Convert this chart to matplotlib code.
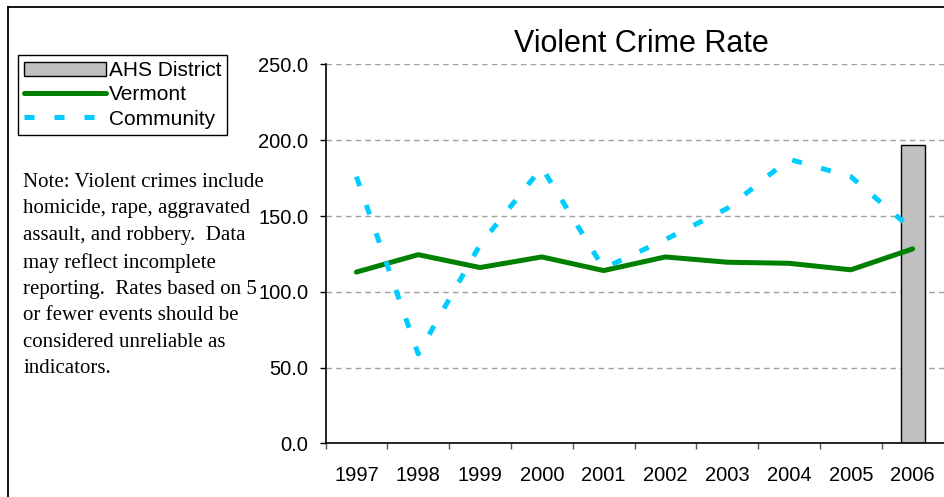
import numpy as np
import matplotlib
matplotlib.use("Agg")
import matplotlib.pyplot as plt
from matplotlib.lines import Line2D

years = ["1997", "1998", "1999", "2000", "2001", "2002", "2003", "2004", "2005", "2006"]
ahs_district = [np.nan, np.nan, np.nan, np.nan, np.nan, np.nan, np.nan, np.nan, np.nan, 197.0]
vermont = [113.0, 124.5, 116.0, 123.0, 114.0, 123.0, 119.5, 118.8, 114.5, 128.3]
community = [176.0, 59.0, 131.0, 182.0, 115.5, 134.5, 155.0, 187.5, 176.0, 141.0]
yticks = [0, 50, 100, 150, 200, 250]
note = ("Note: Violent crimes include\nhomicide, rape, aggravated\nassault, and robbery.  Data\n"
        "may reflect incomplete\nreporting.  Rates based on 5\nor fewer events should be\n"
        "considered unreliable as\nindicators.")

W, H = 944, 497
fig = plt.figure(figsize=(W / 100, H / 100), dpi=100)
plt.rcParams['font.family'] = ['Liberation Sans', 'DejaVu Sans']

left, right, top, bottom = 325.5, 943.5, 64.5, 443.3
ax = fig.add_axes([left / W, 1 - bottom / H, (right - left) / W, (bottom - top) / H])

x = np.arange(len(years))
bars = ax.bar(x, ahs_district, width=0.39, color="#C0C0C0", edgecolor="black", linewidth=1.0,
              label="AHS District", zorder=2)
lv, = ax.plot(x, vermont, color="#008000", linewidth=3.6, label="Vermont", zorder=3,
              solid_joinstyle="round", solid_capstyle="round")
lc, = ax.plot(x, community, color="#00CCFF", linewidth=3.6, dashes=(2.0, 4.0), label="Community",
              zorder=3)

ax.set_xlim(-0.5, len(years) - 0.5)
ax.set_ylim(0, 250)
ax.set_yticks(yticks)
ax.set_yticklabels([f"{v:.1f}" for v in yticks], fontsize=14.5)
ax.yaxis.grid(True, color="#a0a0a0", linestyle=(0, (4, 3)), linewidth=1.0)
ax.set_axisbelow(True)

ax.set_xticks(x)
ax.set_xticklabels(years, fontsize=14.5)
ax.tick_params(axis="x", which="major", length=0, pad=16)
ax.set_xticks(np.arange(len(years)) - 0.5, minor=True)
ax.tick_params(axis="x", which="minor", length=4.3, width=1.0, color="#555555", direction="out")
ax.tick_params(axis="y", length=4.3, width=1.0, direction="out", pad=8)

for s in ["top", "right"]:
    ax.spines[s].set_visible(False)
for s in ["left", "bottom"]:
    ax.spines[s].set_linewidth(1.2)
    ax.spines[s].set_color("black")

fig.text(641 / W, 1 - 51.7 / H, "Violent Crime Rate", ha="center", va="baseline", fontsize=22)

leg = ax.legend([bars, lv, lc], ["AHS District", "Vermont", "Community"],
                loc="upper left", bbox_to_anchor=(18 / W, 1 - 55 / H), bbox_transform=fig.transFigure,
                borderaxespad=0, fontsize=15, frameon=True, fancybox=False, framealpha=1,
                handlelength=3.9, handletextpad=0.15, labelspacing=0.25, borderpad=0.3)
leg.get_frame().set_edgecolor("black")
leg.get_frame().set_linewidth(1.0)

fig.text(23.3 / W, 1 - 173 / H, note, ha="left", va="top", fontsize=15,
         family=["Liberation Serif", "DejaVu Serif"], linespacing=1.53)

fig.add_artist(Line2D([8 / W, 8 / W], [0, 1 - 7 / H], transform=fig.transFigure, color="black", linewidth=1.3))
fig.add_artist(Line2D([8 / W, 1], [1 - 7 / H, 1 - 7 / H], transform=fig.transFigure, color="black", linewidth=1.3))

fig.savefig("out.png", dpi=100)
